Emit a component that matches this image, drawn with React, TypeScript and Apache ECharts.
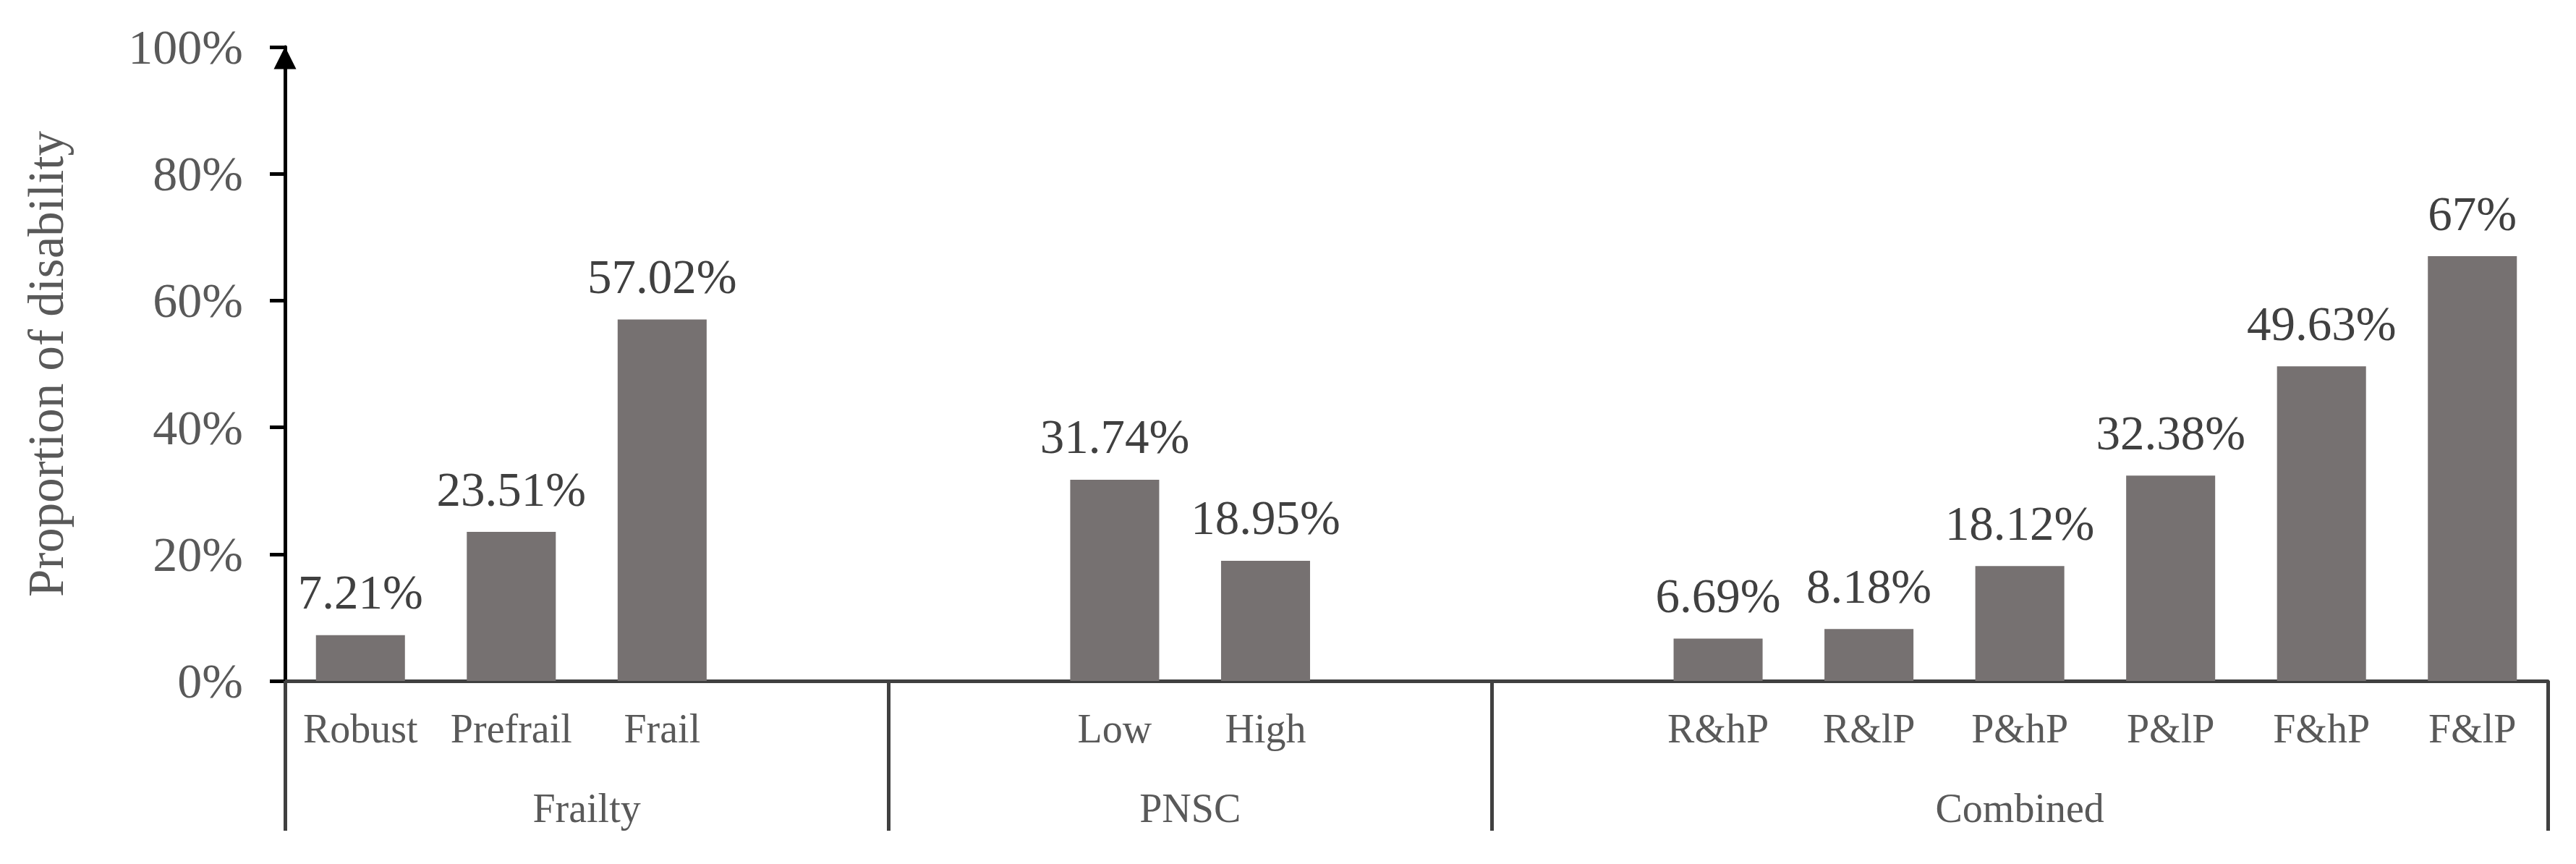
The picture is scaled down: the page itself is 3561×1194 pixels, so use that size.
import React, { useEffect, useRef } from "react";
import * as echarts from "echarts";

const categories = ["Robust", "Prefrail", "Frail", "", "", "Low", "High", "", "", "R&hP", "R&lP", "P&hP", "P&lP", "F&hP", "F&lP"];
const values = [7.21, 23.51, 57.02, null, null, 31.74, 18.95, null, null, 6.69, 8.18, 18.12, 32.38, 49.63, 67];
const valueLabels = ["7.21%", "23.51%", "57.02%", "", "", "31.74%", "18.95%", "", "", "6.69%", "8.18%", "18.12%", "32.38%", "49.63%", "67%"];
const groupNames = ["Frailty", "PNSC", "Combined"];
const groupBounds = [0, 4, 8, 15];
const groupCenters = groupNames.map((_, i) => (groupBounds[i] + groupBounds[i + 1]) / 2);
const yMin = 0;
const yMax = 100;
const yStep = 20;
const yTitle = "Proportion of disability";

const FONT = "Liberation Serif";

export default function App() {
  const ref = useRef<HTMLDivElement>(null);
  useEffect(() => {
    if (!ref.current) return;
    const chart = echarts.init(ref.current, undefined, { renderer: "svg" });
    chart.setOption({
      animation: false,
      backgroundColor: "#ffffff",
      grid: { left: 394, right: 39, top: 65, bottom: 253 },
      xAxis: [
        {
          type: "category",
          data: categories,
          position: "bottom",
          boundaryGap: true,
          axisLine: { show: true, lineStyle: { color: "#404040", width: 5 } },
          axisTick: { show: false },
          axisLabel: { interval: 0, fontFamily: FONT, fontSize: 56, color: "#595959", margin: 38 },
          splitLine: { show: false },
        },
        {
          type: "value",
          min: 0,
          max: groupBounds[groupBounds.length - 1],
          position: "bottom",
          axisLine: { show: false },
          splitLine: { show: false },
          axisTick: {
            show: true,
            customValues: groupBounds,
            length: 207,
            lineStyle: { color: "#404040", width: 5 },
          },
          axisLabel: {
            customValues: groupCenters,
            formatter: (v: number) => {
              const i = groupCenters.indexOf(v);
              return i >= 0 ? groupNames[i] : "";
            },
            margin: 148,
            fontFamily: FONT,
            fontSize: 56,
            color: "#595959",
          },
        },
      ],
      yAxis: {
        type: "value",
        min: yMin,
        max: yMax,
        interval: yStep,
        name: yTitle,
        nameLocation: "middle",
        nameRotate: 90,
        nameGap: 296,
        nameTextStyle: { fontFamily: FONT, fontSize: 69, color: "#595959" },
        axisLine: {
          show: true,
          onZero: false,
          lineStyle: { color: "#000000", width: 5 },
          symbol: ["none", "triangle"],
          symbolSize: [31, 31],
          symbolOffset: [0, -15],
        },
        axisTick: { show: true, length: 21, lineStyle: { color: "#000000", width: 5 } },
        axisLabel: { formatter: "{value}%", fontFamily: FONT, fontSize: 68, color: "#595959", margin: 58 },
        splitLine: { show: false },
      },
      series: [
        {
          type: "bar",
          xAxisIndex: 0,
          yAxisIndex: 0,
          data: values,
          barWidth: "59%",
          itemStyle: { color: "#767171" },
          label: {
            show: true,
            position: "top",
            distance: 26,
            fontFamily: FONT,
            fontSize: 67,
            color: "#404040",
            formatter: (p: any) => valueLabels[p.dataIndex],
          },
        },
      ],
    });
    return () => chart.dispose();
  }, []);
  return <div ref={ref} style={{ position: "fixed", left: 0, top: 0, width: 3561, height: 1194 }} />;
}
